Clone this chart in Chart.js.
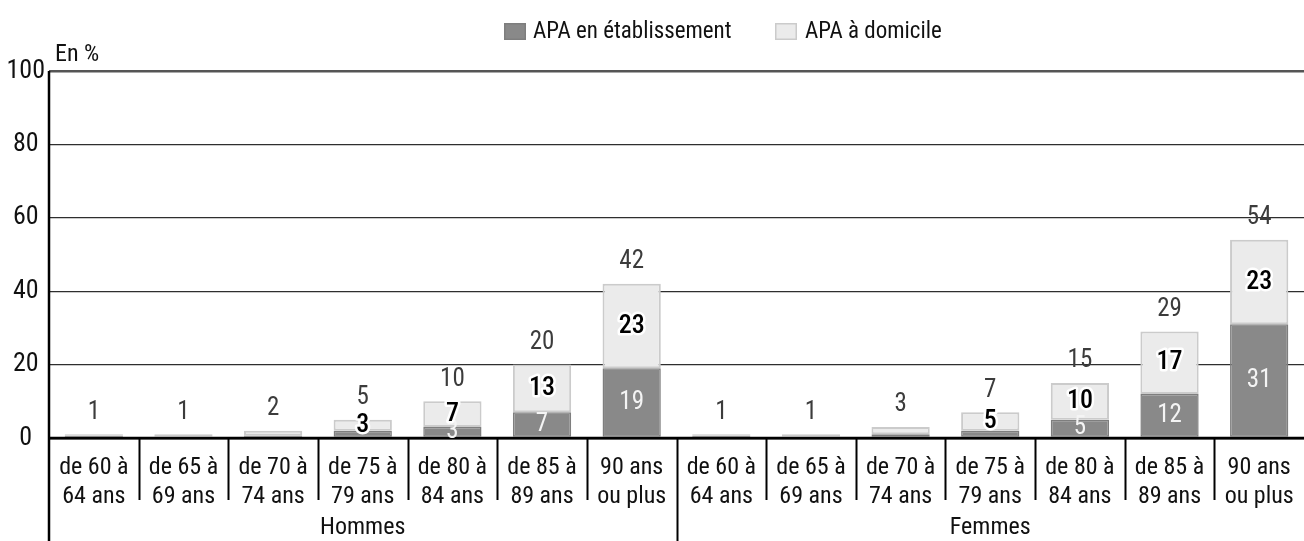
<!DOCTYPE html>
<html lang="fr">
<head>
<meta charset="utf-8">
<script src="https://cdn.jsdelivr.net/npm/chart.js@4.4.1/dist/chart.umd.min.js"></script>
<style>
  html, body { margin: 0; padding: 0; background: #fff; }
  #wrap { width: 1304px; height: 541px; }
</style>
</head>
<body>
<div id="wrap"><canvas id="c" width="1304" height="541"></canvas></div>
<script>
// Age bands (two-line tick labels), repeated for each sex
const ageGroups = [
  ['de 60 à', '64 ans'],
  ['de 65 à', '69 ans'],
  ['de 70 à', '74 ans'],
  ['de 75 à', '79 ans'],
  ['de 80 à', '84 ans'],
  ['de 85 à', '89 ans'],
  ['90 ans', 'ou plus']
];
const sexes = ['Hommes', 'Femmes'];
const categories = [...ageGroups, ...ageGroups];

// Share of each age band receiving APA, in %
const apaEtablissement = [0.6, 0.4, 0.7, 2, 3, 7, 19,   0.6, 0.4, 1, 2, 5, 12, 31];
const apaDomicile      = [0.4, 0.6, 1.3, 3, 7, 13, 23,  0.4, 0.6, 2, 5, 10, 17, 23];

const yTicks = [0, 20, 40, 60, 80, 100];
const yUnit = 'En %';
const seriesNames = ['APA en établissement', 'APA à domicile'];

// condensed face of Roboto; the stretch keyword rides in the weight slot
// of the CSS font shorthand so Chart.js passes it through unchanged
const FAMILY = 'Roboto, "Open Sans", sans-serif';
const COND = 'condensed';
const font = (size, weight) => (weight ? weight + ' ' : '') + COND + ' ' + size + 'px ' + FAMILY;
const SEG_LABEL_MIN = 3;

// Draws value labels inside segments and totals above each stack
const valueLabels = {
  id: 'valueLabels',
  afterDatasetsDraw(chart) {
    const ctx = chart.ctx;
    const area = chart.chartArea;
    const y0 = chart.scales.y.getPixelForValue(0);
    ctx.save();
    // baseline over the bar bottoms
    ctx.strokeStyle = '#000';
    ctx.lineWidth = 2.5;
    ctx.beginPath();
    ctx.moveTo(area.left, y0);
    ctx.lineTo(area.right, y0);
    ctx.stroke();

    ctx.textAlign = 'center';
    ctx.textBaseline = 'middle';
    const metaE = chart.getDatasetMeta(0);
    const metaD = chart.getDatasetMeta(1);
    categories.forEach((_, i) => {
      const e = apaEtablissement[i];
      const d = apaDomicile[i];
      const be = metaE.data[i];
      const bd = metaD.data[i];
      ctx.save();
      ctx.beginPath();
      ctx.rect(area.left, area.top - 60, area.right - area.left, area.bottom - area.top + 60 + 1);
      ctx.clip();
      if (e >= SEG_LABEL_MIN) {
        ctx.font = font(25);
        ctx.fillStyle = '#f4f4f4';
        ctx.fillText(String(e), be.x, (be.y + be.base) / 2);
      }
      if (d >= SEG_LABEL_MIN) {
        ctx.font = font(26, 500);
        ctx.lineJoin = 'round';
        ctx.strokeStyle = '#ffffff';
        ctx.lineWidth = 5;
        const yy = (bd.y + bd.base) / 2;
        ctx.strokeText(String(d), bd.x, yy);
        ctx.fillStyle = '#000';
        ctx.fillText(String(d), bd.x, yy);
      }
      ctx.restore();
      const total = Math.round(e + d);
      ctx.font = font(25);
      ctx.fillStyle = '#3c3c3c';
      ctx.fillText(String(total), bd.x, bd.y - 22);
    });
    ctx.restore();
  }
};

// Category separators, sex group labels, axis line, unit and legend
const frame = {
  id: 'frame',
  afterDraw(chart) {
    const ctx = chart.ctx;
    const area = chart.chartArea;
    const x = chart.scales.x;
    const H = chart.height;
    const y0 = chart.scales.y.getPixelForValue(0);
    const per = ageGroups.length;
    ctx.save();
    ctx.strokeStyle = '#000';
    ctx.lineWidth = 2;
    for (let i = 0; i < categories.length - 1; i++) {
      const bx = Math.round((x.getPixelForTick(i) + x.getPixelForTick(i + 1)) / 2) + 0.5;
      const groupEdge = (i + 1) % per === 0;
      ctx.beginPath();
      ctx.moveTo(bx, y0);
      ctx.lineTo(bx, groupEdge ? H : y0 + 62);
      ctx.stroke();
    }
    // left axis line, running down through the category area
    ctx.lineWidth = 2.5;
    ctx.beginPath();
    ctx.moveTo(area.left, area.top);
    ctx.lineTo(area.left, H);
    ctx.stroke();

    // sex group labels
    ctx.font = font(24);
    ctx.fillStyle = '#111';
    ctx.textAlign = 'center';
    ctx.textBaseline = 'middle';
    sexes.forEach((s, g) => {
      const cx = (x.getPixelForTick(g * per) + x.getPixelForTick(g * per + per - 1)) / 2;
      ctx.fillText(s, cx, 528);
    });

    // unit
    ctx.textAlign = 'left';
    ctx.font = font(24);
    ctx.fillText(yUnit, area.left + 6, 55);

    // legend
    const ds = chart.data.datasets;
    const items = [{ box: 504, text: 533 }, { box: 775, text: 805 }];
    ctx.font = font(23);
    ds.forEach((d, k) => {
      const it = items[k];
      ctx.fillStyle = d.backgroundColor;
      ctx.fillRect(it.box, 23, 22, 17);
      ctx.strokeStyle = d.borderColor;
      ctx.lineWidth = 1.5;
      ctx.strokeRect(it.box + 0.75, 23.75, 20.5, 15.5);
      ctx.fillStyle = '#111';
      ctx.textBaseline = 'middle';
      ctx.fillText(d.label, it.text, 32);
    });
    ctx.restore();
  }
};

new Chart(document.getElementById('c'), {
  type: 'bar',
  data: {
    labels: categories,
    datasets: [
      {
        label: seriesNames[0],
        data: apaEtablissement,
        backgroundColor: '#898989',
        borderColor: '#7e7e7e',
        borderWidth: 1.5,
        borderSkipped: false,
        barPercentage: 0.65,
        categoryPercentage: 1
      },
      {
        label: seriesNames[1],
        data: apaDomicile,
        backgroundColor: '#ebebeb',
        borderColor: '#cbcbcb',
        borderWidth: 2,
        borderSkipped: false,
        barPercentage: 0.65,
        categoryPercentage: 1
      }
    ]
  },
  options: {
    responsive: false,
    devicePixelRatio: 1,
    animation: false,
    layout: { padding: { top: 71, left: 0, right: 0, bottom: 0 } },
    plugins: {
      legend: { display: false },
      tooltip: { enabled: false }
    },
    scales: {
      x: {
        stacked: true,
        grid: { display: false },
        border: { display: false },
        ticks: {
          color: '#111',
          font: { family: FAMILY, weight: COND, size: 24, lineHeight: 1.22 },
          padding: 7,
          maxRotation: 0,
          autoSkip: false
        },
        afterFit(s) { s.height = 103; }
      },
      y: {
        stacked: true,
        min: 0,
        max: 100,
        afterBuildTicks(s) { s.ticks = yTicks.map(v => ({ value: v })); },
        border: { display: false },
        grid: {
          drawTicks: false,
          color: c => c.tick.value === 0 ? '#000' : (c.tick.value === 100 ? '#555' : '#2e2e2e'),
          lineWidth: c => (c.tick.value === 0 || c.tick.value === 100) ? 2.5 : 1.3
        },
        ticks: {
          color: '#111',
          font: { family: FAMILY, weight: COND, size: 26 },
          padding: 4,
          crossAlign: 'center'
        },
        afterFit(s) { s.width = 49; }
      }
    }
  },
  plugins: [valueLabels, frame]
});
</script>
</body>
</html>
